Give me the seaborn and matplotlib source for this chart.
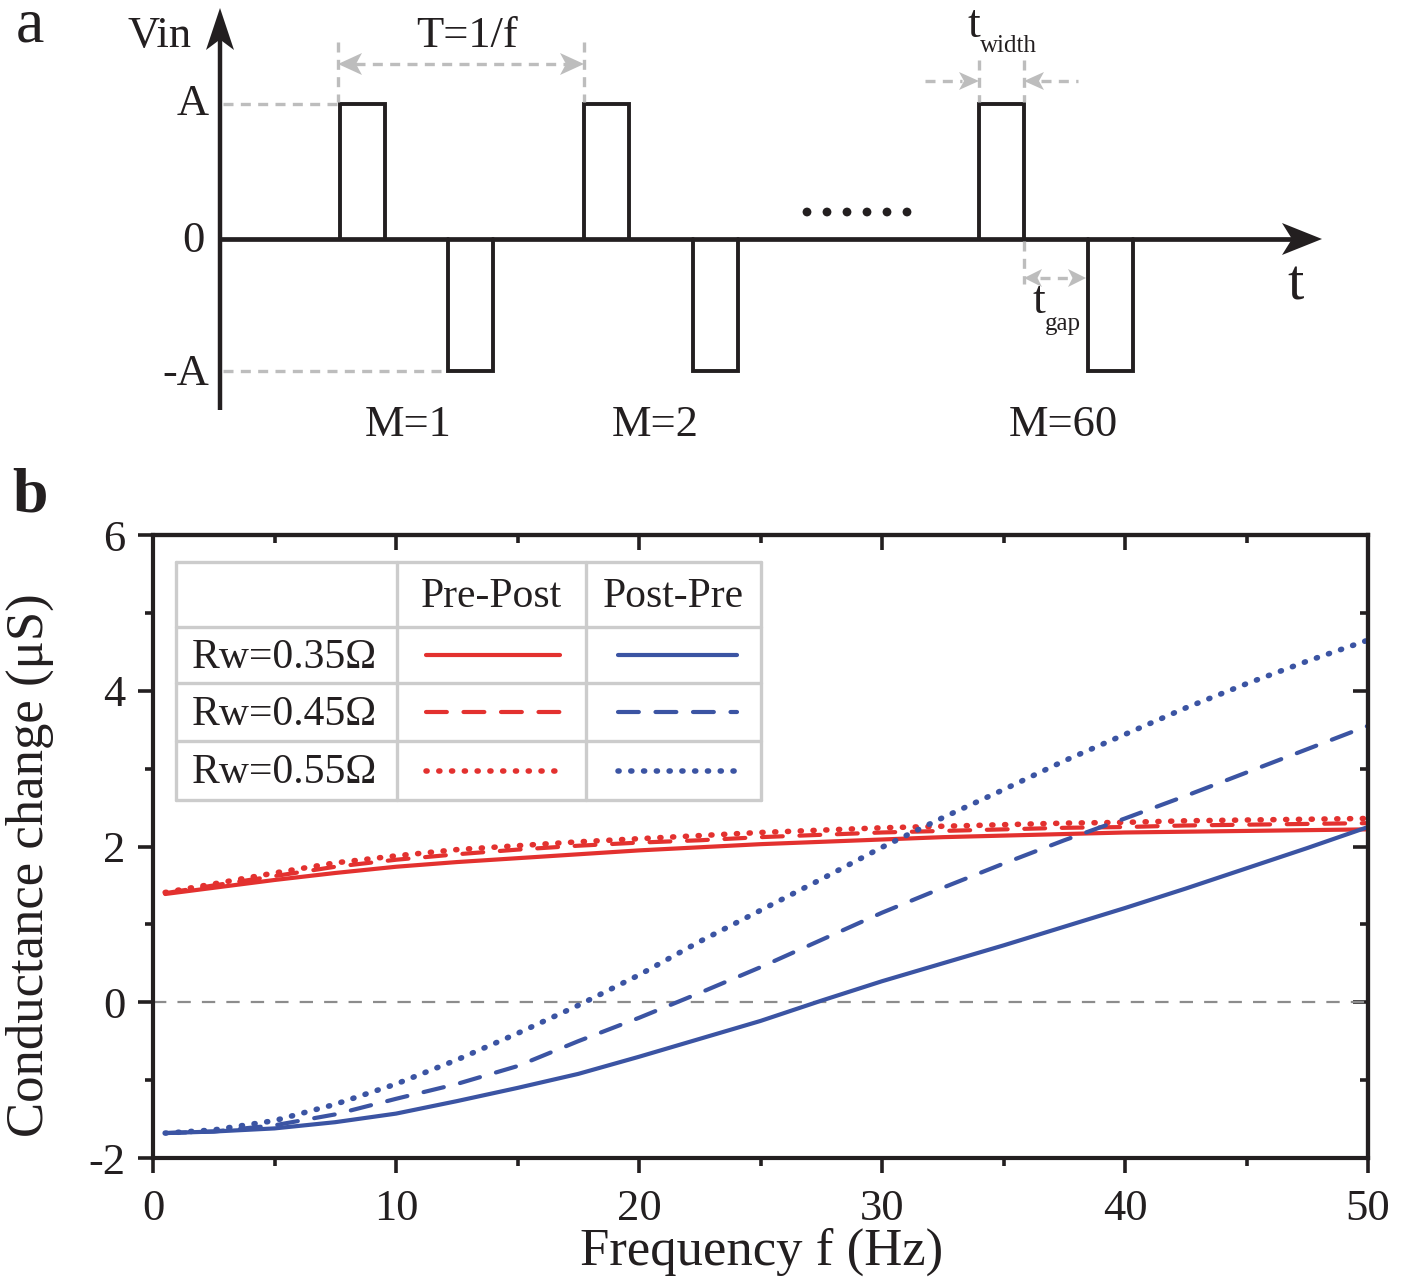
import numpy as np
import pandas as pd
import matplotlib
matplotlib.use("Agg")
import matplotlib.pyplot as plt
from matplotlib.patches import Polygon, Circle
from matplotlib.ticker import MultipleLocator
import seaborn as sns

# ---------------- data (panel b) ----------------
freq = [0.5, 2.5, 5, 7.5, 10, 12.5, 15, 17.5, 20, 22.5, 25,
        27.5, 30, 32.5, 35, 37.5, 40, 42.5, 45, 47.5, 50]

prepost_035 = [1.39, 1.47, 1.57, 1.66, 1.74, 1.80, 1.85, 1.90, 1.95, 1.99, 2.03,
               2.06, 2.09, 2.12, 2.14, 2.16, 2.18, 2.19, 2.20, 2.21, 2.22]
prepost_045 = [1.40, 1.50, 1.62, 1.74, 1.83, 1.90, 1.96, 2.01, 2.05, 2.08, 2.12,
               2.15, 2.18, 2.20, 2.22, 2.24, 2.25, 2.27, 2.28, 2.29, 2.30]
prepost_055 = [1.41, 1.52, 1.66, 1.79, 1.88, 1.96, 2.01, 2.06, 2.10, 2.14, 2.18,
               2.21, 2.24, 2.26, 2.28, 2.30, 2.31, 2.33, 2.34, 2.35, 2.36]

postpre_035 = [-1.68, -1.66, -1.62, -1.54, -1.43, -1.27, -1.10, -0.92, -0.70, -0.47, -0.24,
               0.02, 0.27, 0.50, 0.73, 0.97, 1.21, 1.46, 1.72, 1.98, 2.25]
postpre_045 = [-1.68, -1.66, -1.58, -1.44, -1.24, -1.05, -0.82, -0.50, -0.20, 0.12, 0.45,
               0.80, 1.15, 1.47, 1.78, 2.08, 2.36, 2.65, 2.95, 3.25, 3.55]
postpre_055 = [-1.68, -1.64, -1.52, -1.31, -1.05, -0.74, -0.40, -0.04, 0.35, 0.78, 1.18,
               1.58, 1.99, 2.37, 2.73, 3.10, 3.44, 3.78, 4.09, 4.38, 4.65]

rw_labels = ["Rw=0.35\u03a9", "Rw=0.45\u03a9", "Rw=0.55\u03a9"]
col_labels = ["Pre-Post", "Post-Pre"]

# ---------------- schematic (panel a), pixel units ----------------
pos_pulse_x = [340, 584, 979]
neg_pulse_x = [448, 693, 1088]
pulse_w = 45
y_top, y_zero, y_bot = 104, 239, 371
m_labels = ["M=1", "M=2", "M=60"]
m_label_x = [408, 655, 1063]
dots_x = [807, 827, 847, 867, 887, 907]

RED = "#e3312f"
BLUE = "#3b54a3"
GREY = "#bdbdbd"
INK = "#231f20"

sns.set_theme(style="white")
plt.rcParams["font.family"] = ["Liberation Serif", "DejaVu Serif"]
plt.rcParams["axes.unicode_minus"] = False

W, H = 1404, 1283
fig = plt.figure(figsize=(W / 100, H / 100), dpi=100)

# ===== panel a =====
axa = fig.add_axes([0, 1 - 460 / H, 1, 460 / H])
axa.set_xlim(0, W)
axa.set_ylim(460, 0)
axa.axis("off")

def arrow_head(ax, tip, direction, length, half, color, notch=0.25):
    tip = np.array(tip, float)
    d = np.array(direction, float)
    d /= np.linalg.norm(d)
    n = np.array([-d[1], d[0]])
    base = tip - d * length
    pts = [tip, base + n * half, tip - d * length * (1 - notch), base - n * half]
    ax.add_patch(Polygon(pts, closed=True, color=color, lw=0, zorder=5))

# axes of the schematic
axa.plot([220, 220], [410, 30], color=INK, lw=3.2, solid_capstyle="butt")
arrow_head(axa, (220, 8), (0, -1), 42, 14, INK)
axa.plot([220, 1300], [y_zero, y_zero], color=INK, lw=3.4, solid_capstyle="butt")
arrow_head(axa, (1322, y_zero), (1, 0), 40, 16, INK)

for x0 in pos_pulse_x:
    axa.plot([x0, x0, x0 + pulse_w, x0 + pulse_w], [y_zero, y_top, y_top, y_zero],
             color=INK, lw=2.8, solid_joinstyle="miter")
for x0 in neg_pulse_x:
    axa.plot([x0, x0, x0 + pulse_w, x0 + pulse_w], [y_zero, y_bot, y_bot, y_zero],
             color=INK, lw=2.8, solid_joinstyle="miter")

gdash = dict(color=GREY, lw=2.4, linestyle=(0, (3, 2.2)))
axa.plot([223, 338], [y_top, y_top], **gdash)
axa.plot([223, 446], [y_bot, y_bot], **gdash)
for xv, y0, y1 in [(338, 42, 102), (584, 42, 102), (979, 60, 102), (1024, 60, 102), (1024, 241, 284)]:
    axa.plot([xv, xv], [y0, y1], **gdash)

# T = 1/f arrow
axa.plot([355, 567], [64, 64], **gdash)
arrow_head(axa, (338, 64), (-1, 0), 24, 11, GREY)
arrow_head(axa, (584, 64), (1, 0), 24, 11, GREY)
# t_width arrows
axa.plot([925, 962], [81, 81], **gdash)
arrow_head(axa, (979, 81), (1, 0), 20, 9, GREY)
axa.plot([1041, 1078], [81, 81], **gdash)
arrow_head(axa, (1024, 81), (-1, 0), 20, 9, GREY)
# t_gap arrow
axa.plot([1040, 1068], [278, 278], **gdash)
arrow_head(axa, (1024, 278), (-1, 0), 18, 9, GREY)
arrow_head(axa, (1086, 278), (1, 0), 18, 9, GREY)

for xd in dots_x:
    axa.add_patch(Circle((xd, 212), 4.4, color=INK, lw=0))

axa.text(30, 26, "a", fontsize=46, ha="center", va="center", color=INK)
axa.text(160, 36, "Vin", fontsize=32, ha="center", va="center", color=INK)
axa.text(209, 104, "A", fontsize=32, ha="right", va="center", color=INK)
axa.text(205, 241, "0", fontsize=32, ha="right", va="center", color=INK)
axa.text(209, 374, "-A", fontsize=32, ha="right", va="center", color=INK)
axa.text(467, 36, "T=1/f", fontsize=32, ha="center", va="center", color=INK)
axa.text(974, 26, "t", fontsize=33, ha="center", va="center", color=INK)
axa.text(980, 46, "width", fontsize=18, ha="left", va="center", color=INK)
axa.text(1039, 302, "t", fontsize=33, ha="center", va="center", color=INK)
axa.text(1045, 324, "gap", fontsize=18, ha="left", va="center", color=INK)
axa.text(1295, 286, "t", fontsize=42, ha="center", va="center", color=INK)
for lab, xm in zip(m_labels, m_label_x):
    axa.text(xm, 425, lab, fontsize=32, ha="center", va="center", color=INK)

# ===== panel b =====
left, right, top, bottom = 153, 1368, 535, 1158
ax = fig.add_axes([left / W, 1 - bottom / H, (right - left) / W, (bottom - top) / H])

dash_style = (0, (5, 4))
dot_style = (0, (0.2, 2.1))
series = [
    (prepost_035, RED, "-", 3.0), (prepost_045, RED, dash_style, 3.0), (prepost_055, RED, dot_style, 4.0),
    (postpre_035, BLUE, "-", 3.0), (postpre_045, BLUE, dash_style, 3.0), (postpre_055, BLUE, dot_style, 4.0),
]
ax.axhline(0, color="#8c8c8c", lw=1.6, linestyle=(0, (6, 5)), zorder=1)
for vals, c, ls, w in series:
    df = pd.DataFrame({"f": freq, "g": vals})
    sns.lineplot(data=df, x="f", y="g", ax=ax, color=c, linestyle=ls, lw=w,
                 dash_capstyle="round", solid_capstyle="round")

ax.set_xlim(0, 50)
ax.set_ylim(-2, 6)
ax.xaxis.set_major_locator(MultipleLocator(10))
ax.xaxis.set_minor_locator(MultipleLocator(5))
ax.yaxis.set_major_locator(MultipleLocator(2))
ax.yaxis.set_minor_locator(MultipleLocator(1))
ax.set_xlabel("")
ax.set_ylabel("")
for s in ax.spines.values():
    s.set_color(INK)
    s.set_linewidth(3)
ax.tick_params(which="both", direction="out", bottom=True, left=True, top=False, right=False,
               color=INK, width=2.6, labelsize=32, labelcolor=INK)
ax.tick_params(which="major", length=11)
ax.tick_params(which="minor", length=6)
ax.tick_params(axis="x", which="major", pad=11)
ax.tick_params(axis="y", which="major", pad=9)
# mirrored ticks pointing inward on top / right
sec_x = ax.secondary_xaxis("top")
sec_x.xaxis.set_major_locator(MultipleLocator(10))
sec_x.xaxis.set_minor_locator(MultipleLocator(5))
sec_x.tick_params(which="both", direction="in", color=INK, width=2.6, labeltop=False)
sec_x.tick_params(which="major", length=11)
sec_x.tick_params(which="minor", length=6)
sec_x.spines["top"].set_linewidth(3)
sec_y = ax.secondary_yaxis("right")
sec_y.yaxis.set_major_locator(MultipleLocator(2))
sec_y.yaxis.set_minor_locator(MultipleLocator(1))
sec_y.tick_params(which="both", direction="in", color=INK, width=2.6, labelright=False)
sec_y.tick_params(which="major", length=11)
sec_y.tick_params(which="minor", length=6)
sec_y.spines["right"].set_linewidth(3)

# legend drawn as a table
tx = [0.0189, 0.2008, 0.3564, 0.5004]
ty = [0.9567, 0.8523, 0.7624, 0.6693, 0.5746]
tc = "#cccccc"
for xv in tx:
    ax.plot([xv, xv], [ty[-1], ty[0]], transform=ax.transAxes, color=tc, lw=2.4, zorder=6)
for yv in ty:
    ax.plot([tx[0], tx[-1]], [yv, yv], transform=ax.transAxes, color=tc, lw=2.4, zorder=6)
for j, lab in enumerate(col_labels):
    ax.text((tx[j + 1] + tx[j + 2]) / 2, (ty[0] + ty[1]) / 2 - 0.004, lab, transform=ax.transAxes,
            fontsize=30, ha="center", va="center", color=INK, zorder=7)
row_styles = [("-", 3.0), (dash_style, 3.0), (dot_style, 4.0)]
for i, lab in enumerate(rw_labels):
    yc = (ty[i + 1] + ty[i + 2]) / 2
    ls, w = row_styles[i]
    ax.text(tx[0] + 0.013, yc - 0.004, lab, transform=ax.transAxes,
            fontsize=30, ha="left", va="center", color=INK, zorder=7)
    ax.plot([0.2247, 0.3350], [yc, yc], transform=ax.transAxes, color=RED, lw=w,
            linestyle=ls, dash_capstyle="round", solid_capstyle="round", zorder=7)
    ax.plot([0.3827, 0.4807], [yc, yc], transform=ax.transAxes, color=BLUE, lw=w,
            linestyle=ls, dash_capstyle="round", solid_capstyle="round", zorder=7)

fig.text(30 / W, 1 - 497 / H, "b", fontsize=46, ha="center", va="center", color=INK,
         fontweight="bold")
fig.text(30 / W, 1 - 865 / H, "Conductance change (\u03bcS)", fontsize=38, rotation=90,
         ha="center", va="center", color=INK)
fig.text(762 / W, 1 - 1252 / H, "Frequency f (Hz)", fontsize=38, ha="center", va="center",
         color=INK)

fig.savefig("out.png", dpi=100, facecolor="white")
